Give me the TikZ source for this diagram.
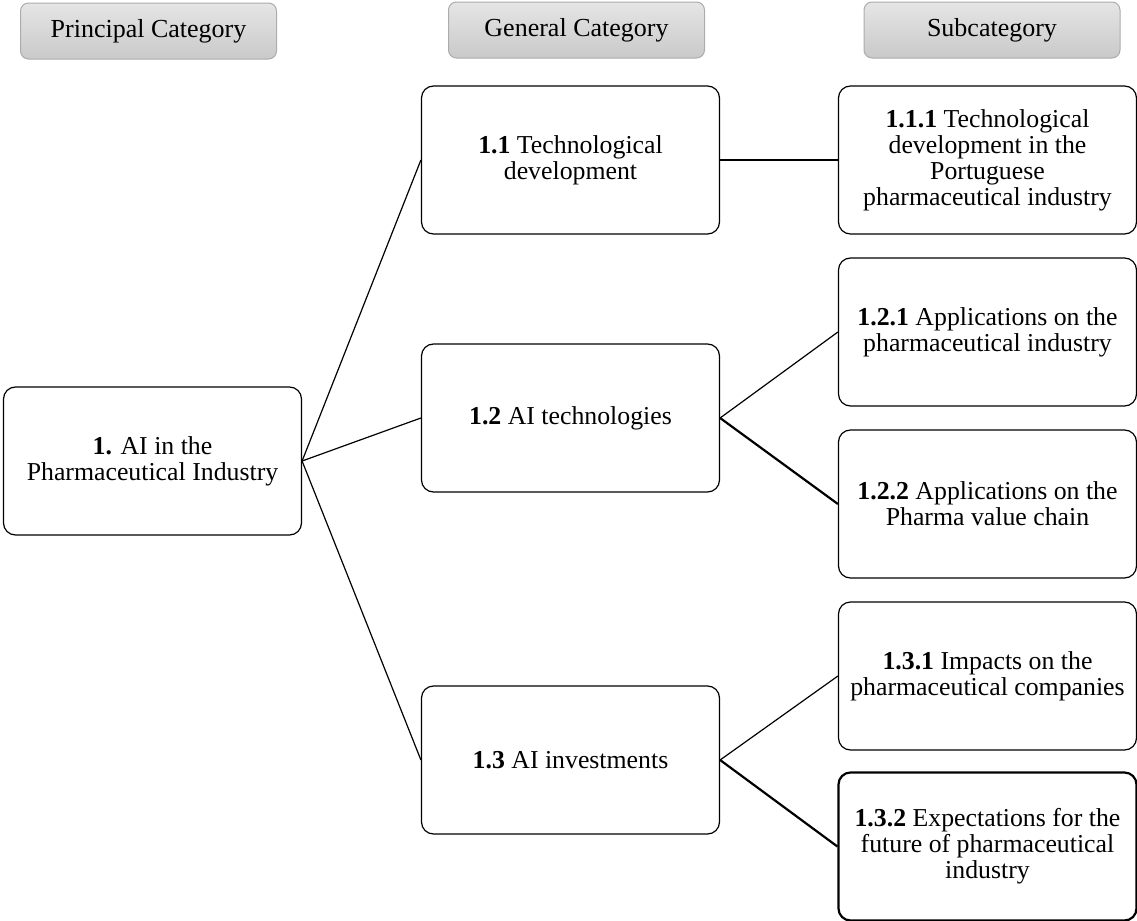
\documentclass[tikz,border=0pt]{standalone}
\usepackage{fontspec}
\setmainfont{Liberation Serif}
\usepackage{tikz}
\usetikzlibrary{positioning}

\begin{document}
\begin{tikzpicture}[x=0.5pt,y=-0.5pt,
	box/.style={draw,rounded corners=6pt,minimum width=149pt,minimum height=74pt,align=center,font=\fontsize{12.9}{13}\selectfont,line width=0.6pt,inner sep=1pt},
	head/.style={draw=gray!65,rounded corners=4pt,top color=gray!20,bottom color=gray!42,minimum width=128pt,minimum height=28pt,font=\fontsize{13}{13}\selectfont,line width=0.5pt}]
	\useasboundingbox (0,0) rectangle (1137,921);
	
	\node[head] (hp) at (148.5,31) {Principal Category};
	\node[head] (hg) at (576.5,30) {General Category};
	\node[head] (hs) at (992,30) {Subcategory};
	
	\node[box] (p) at (152.5,461) {\textbf{1.} AI in the\\Pharmaceutical Industry};
	\node[box] (g1) at (570.5,160) {\textbf{1.1} Technological\\development};
	\node[box] (g2) at (570.5,418) {\textbf{1.2} AI technologies};
	\node[box] (g3) at (570.5,760) {\textbf{1.3} AI investments};
	
	\node[box] (s11) at (987.5,160) {\textbf{1.1.1} Technological\\development in the\\Portuguese\\pharmaceutical industry};
	\node[box] (s21) at (987.5,332) {\textbf{1.2.1} Applications on the\\pharmaceutical industry};
	\node[box] (s22) at (987.5,504) {\textbf{1.2.2} Applications on the\\Pharma value chain};
	\node[box] (s31) at (987.5,676) {\textbf{1.3.1} Impacts on the\\pharmaceutical companies};
	\node[box,line width=1.1pt] (s32) at (987.5,846.5) {\textbf{1.3.2} Expectations for the\\future of pharmaceutical\\industry};
	
	\draw[line width=0.6pt] (p.east) -- (g1.west);
	\draw[line width=0.6pt] (p.east) -- (g2.west);
	\draw[line width=0.6pt] (p.east) -- (g3.west);
	\draw[line width=0.6pt] (g1.east) -- (s11.west);
	\draw[line width=0.6pt] (g2.east) -- (s21.west);
	\draw[line width=1.1pt] (g2.east) -- (s22.west);
	\draw[line width=0.6pt] (g3.east) -- (s31.west);
	\draw[line width=1.1pt] (g3.east) -- (s32.west);
\end{tikzpicture}
\end{document}
